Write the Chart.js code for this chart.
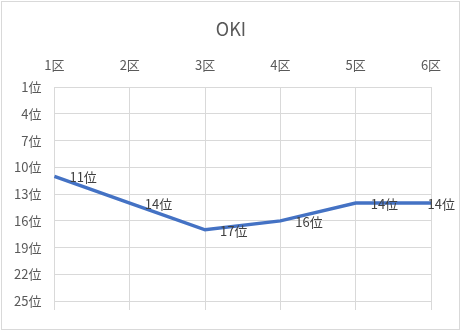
<!DOCTYPE html>
<html>
<head>
<meta charset="utf-8">
<script src="https://cdn.jsdelivr.net/npm/chart.js@4"></script>
<style>
  body { margin: 0; background: #fff; }
  #wrap { width: 462px; height: 332px; }
</style>
</head>
<body>
<div id="wrap"><canvas id="chart" width="462" height="332"></canvas></div>
<script>
// data
const sections = ["1区", "2区", "3区", "4区", "5区", "6区"];
const ranks = [11, 14, 17, 16, 14, 14];
const rankTicks = [1, 4, 7, 10, 13, 16, 19, 22, 25];
const title = "OKI";

const font = "'Noto Sans CJK JP', 'Noto Sans', sans-serif";

// outer chart border, like the excel chart frame
const frame = {
    id: "frame",
    afterDraw(chart) {
        const ctx = chart.ctx;
        ctx.save();
        ctx.strokeStyle = "#d9d9d9";
        ctx.lineWidth = 1;
        ctx.strokeRect(1.5, 1.5, chart.width - 4, chart.height - 4);
        ctx.restore();
    }
};

// value labels to the right of each point
const pointLabels = {
    id: "pointLabels",
    afterDatasetsDraw(chart) {
        const ctx = chart.ctx;
        const meta = chart.getDatasetMeta(0);
        ctx.save();
        ctx.font = "13px " + font;
        ctx.fillStyle = "#404040";
        ctx.textBaseline = "middle";
        meta.data.forEach((pt, i) => {
            const txt = ranks[i] + "位";
            const w = ctx.measureText(txt).width;
            let x = pt.x + 15;
            if (x + w > chart.width - 7) x = chart.width - 7 - w; // keep inside the frame
            ctx.fillText(txt, x, pt.y + 1);
        });
        ctx.restore();
    }
};

new Chart(document.getElementById("chart").getContext("2d"), {
    type: "line",
    data: {
        labels: sections,
        datasets: [{
            data: ranks,
            borderColor: "#4472C4",
            borderWidth: 3.5,
            pointRadius: 0,
            tension: 0,
            fill: false
        }]
    },
    options: {
        responsive: false,
        animation: false,
        layout: { padding: { left: 1, right: 1, top: 4, bottom: 22 } },
        plugins: {
            legend: { display: false },
            tooltip: { enabled: false },
            title: {
                display: true,
                text: title,
                color: "#595959",
                font: { family: font, size: 18, weight: "normal" },
                padding: { top: 14, bottom: 4 }
            }
        },
        scales: {
            x: {
                position: "top",
                offset: false,
                border: { display: false },
                grid: { color: "#d9d9d9", lineWidth: 1, drawTicks: false },
                afterFit: (axis) => {
                    axis.paddingRight = 31; // leave room right of the plot like the excel chart
                },
                ticks: {
                    color: "#595959",
                    font: { family: font, size: 13 },
                    padding: 14,
                    maxRotation: 0
                }
            },
            y: {
                reverse: true,
                min: 1,
                max: 26,
                border: { display: false },
                grid: { color: "#d9d9d9", lineWidth: 1, drawTicks: false },
                afterBuildTicks: (axis) => {
                    axis.ticks = rankTicks.map(v => ({ value: v }));
                },
                ticks: {
                    color: "#595959",
                    font: { family: font, size: 13 },
                    padding: 13,
                    callback: (v) => v + "位"
                }
            }
        }
    },
    plugins: [frame, pointLabels]
});
</script>
</body>
</html>
